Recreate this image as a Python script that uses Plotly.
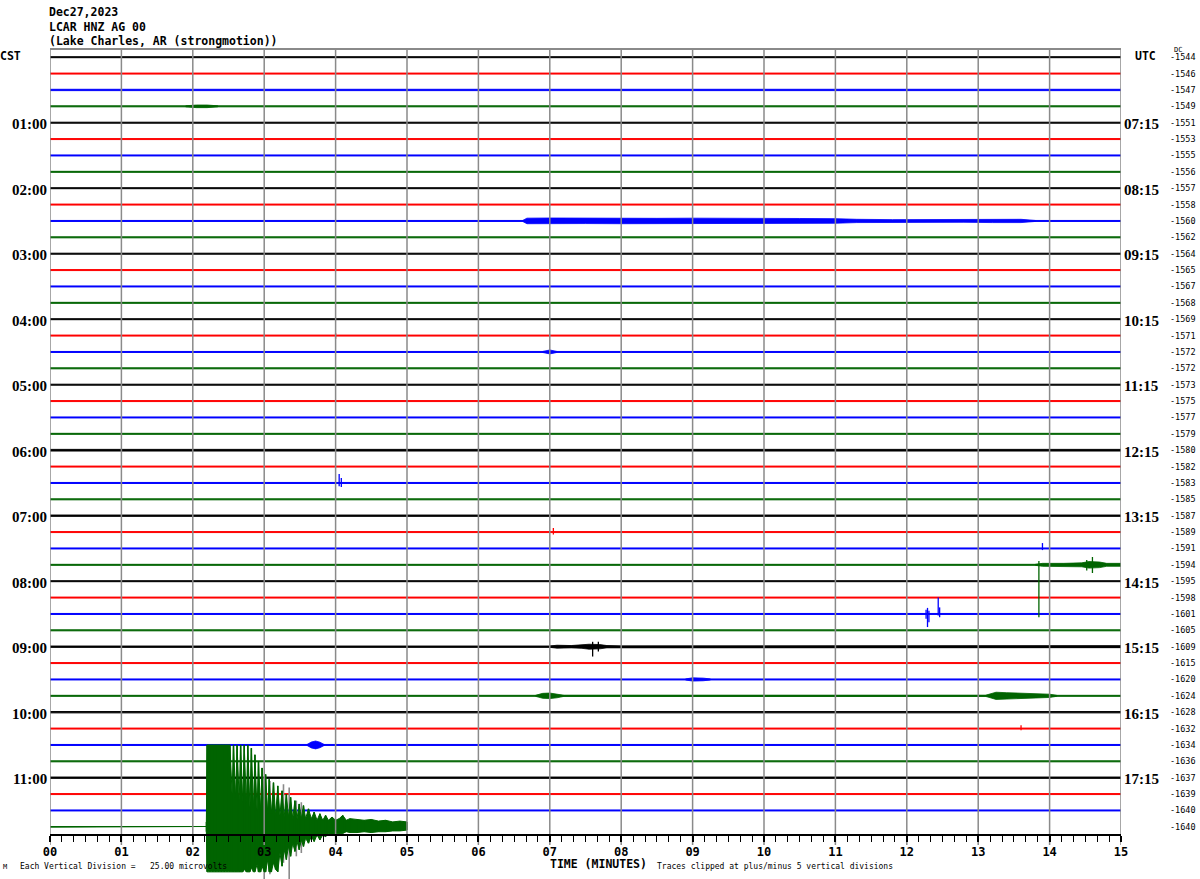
import plotly.graph_objects as go

# ---------------- data ----------------
HEADER = ["Dec27,2023", "LCAR HNZ AG 00", "(Lake Charles, AR (strongmotion))"]
CST_ROWS = [4, 8, 12, 16, 20, 24, 28, 32, 36, 40, 44]
CST_LABELS = ["01:00", "02:00", "03:00", "04:00", "05:00", "06:00",
              "07:00", "08:00", "09:00", "10:00", "11:00"]
UTC_LABELS = ["07:15", "08:15", "09:15", "10:15", "11:15", "12:15",
              "13:15", "14:15", "15:15", "16:15", "17:15"]
DC_VALUES = [-1544, -1546, -1547, -1549, -1551, -1553, -1555, -1556,
             -1557, -1558, -1560, -1562, -1564, -1565, -1567, -1568,
             -1569, -1571, -1572, -1572, -1573, -1575, -1577, -1579,
             -1580, -1582, -1583, -1585, -1587, -1589, -1591, -1594,
             -1595, -1598, -1601, -1605, -1609, -1615, -1620, -1624,
             -1628, -1632, -1634, -1636, -1637, -1639, -1640, -1640]
MINUTES = [0, 1, 2, 3, 4, 5, 6, 7, 8, 9, 10, 11, 12, 13, 14, 15]
MINUTE_LABELS = ["00", "01", "02", "03", "04", "05", "06", "07",
                 "08", "09", "10", "11", "12", "13", "14", "15"]

# background noise half-width of every row (vertical divisions)
NOISE = [0.03, 0.03, 0.04, 0.03, 0.03, 0.03, 0.03, 0.03,
         0.03, 0.03, 0.03, 0.03, 0.03, 0.03, 0.03, 0.03,
         0.03, 0.03, 0.03, 0.03, 0.03, 0.03, 0.03, 0.03,
         0.05, 0.03, 0.03, 0.03, 0.04, 0.03, 0.03, 0.03,
         0.03, 0.03, 0.03, 0.03, 0.04, 0.03, 0.03, 0.03,
         0.04, 0.03, 0.03, 0.03, 0.04, 0.03, 0.03, 0.02]
LAST_ROW_ONSET = 2.19   # minutes, earthquake arrival on last row
LAST_ROW_END = 5.0      # data end on the last row

# local activity envelopes (minutes, half-amplitude in divisions)
EV3_T = [1.9, 2.05, 2.2, 2.35]
EV3_A = [0.03, 0.08, 0.08, 0.03]
EV10_T = [6.62, 6.68, 7.0, 7.5, 8.0, 8.5, 9.0, 9.5, 10.0, 10.5, 11.0,
          11.3, 11.8, 12.3, 12.8, 13.2, 13.4, 13.6, 13.8]
EV10_A = [0.03, 0.17, 0.18, 0.16, 0.17, 0.16, 0.17, 0.15, 0.17, 0.15, 0.14,
          0.1, 0.08, 0.08, 0.08, 0.1, 0.12, 0.1, 0.03]
EV18_T = [6.9, 7.0, 7.1]
EV18_A = [0.03, 0.12, 0.03]
EV31_T = [13.8, 13.9, 14.2, 14.45, 14.55, 14.7, 14.8, 15.0]
EV31_A = [0.03, 0.09, 0.09, 0.12, 0.2, 0.17, 0.09, 0.09]
EV36_T = [7.0, 7.1, 7.3, 7.45, 7.55, 7.7, 7.8, 8.0, 10.5, 10.7, 15.0]
EV36_A = [0.04, 0.09, 0.07, 0.1, 0.15, 0.13, 0.07, 0.04, 0.04, 0.06, 0.06]
EV38_T = [8.9, 9.0, 9.15, 9.25]
EV38_A = [0.03, 0.1, 0.08, 0.03]
EV39_T = [6.8, 6.9, 7.0, 7.1, 7.2, 13.1, 13.25, 13.4, 13.6, 13.8, 14.0, 14.1]
EV39_A = [0.03, 0.15, 0.17, 0.12, 0.03, 0.03, 0.22, 0.19, 0.15, 0.12, 0.1, 0.03]
EV42_T = [3.6, 3.66, 3.72, 3.78, 3.84]
EV42_A = [0.03, 0.18, 0.24, 0.17, 0.03]

# isolated spikes: row, minute, up, down (divisions)
SPIKE_ROW = [17, 26, 26, 29, 30, 31, 31, 31, 34, 34, 34, 34, 34, 36, 36, 41]
SPIKE_T = [4.0, 4.05, 4.08, 7.05, 13.9, 13.85, 14.52, 14.6, 12.27, 12.29,
           12.31, 12.44, 12.46, 7.6, 7.68, 13.6]
SPIKE_UP = [0.15, 0.55, 0.3, 0.25, 0.33, 0.23, 0.3, 0.48, 0.25, 0.37,
            0.2, 1.0, 0.4, 0.3, 0.3, 0.2]
SPIKE_DN = [0.2, 0.2, 0.25, 0.15, 0.1, 3.2, 0.35, 0.5, 0.3, 0.8,
            0.5, 0.1, 0.2, 0.6, 0.3, 0.1]

# earthquake on the last row (minutes, up, down in divisions; clipped)
QK_T = [2.19, 2.20, 2.24, 2.28, 2.32, 2.36, 2.40, 2.44, 2.48, 2.52, 2.55,
        2.57, 2.60, 2.62, 2.65, 2.67, 2.70, 2.72, 2.75, 2.77, 2.80, 2.82,
        2.85, 2.87, 2.90, 2.92, 2.95, 2.97, 3.00, 3.02, 3.05, 3.07, 3.10,
        3.13, 3.16, 3.19, 3.22, 3.25, 3.28, 3.31, 3.34, 3.37, 3.40, 3.43,
        3.46, 3.49, 3.52, 3.55, 3.58, 3.62, 3.66, 3.70, 3.74, 3.78, 3.82,
        3.86, 3.90, 3.95, 4.00, 4.05, 4.10, 4.15, 4.20, 4.30, 4.40, 4.50,
        4.60, 4.70, 4.80, 4.90, 5.00]
QK_UP = [0.3, 5.0, 5.0, 5.0, 5.0, 5.0, 5.0, 5.0, 5.0, 5.0, 2.0,
         5.0, 1.8, 5.0, 1.6, 5.0, 1.5, 5.0, 1.4, 5.0, 1.2, 4.8,
         1.2, 4.4, 1.0, 4.0, 1.0, 3.6, 0.9, 3.2, 0.8, 2.9, 0.8,
         2.7, 0.7, 2.5, 0.7, 2.2, 0.6, 2.0, 0.6, 1.8, 0.5, 1.6,
         0.5, 1.4, 0.5, 1.3, 0.5, 1.1, 0.5, 0.9, 0.4, 0.8, 0.4,
         0.7, 0.4, 0.6, 0.4, 0.5, 0.7, 0.4, 0.5, 0.45, 0.4, 0.45,
         0.35, 0.4, 0.3, 0.35, 0.3]
QK_DN = [0.3, 2.75, 2.75, 2.75, 2.75, 2.75, 2.75, 2.75, 2.75, 2.75, 2.75,
         2.75, 2.75, 2.75, 2.75, 2.75, 2.75, 2.6, 2.75, 2.75, 2.75, 2.5,
         2.75, 2.75, 2.3, 2.75, 2.75, 2.4, 2.75, 2.75, 2.0, 2.75, 2.75,
         2.2, 2.6, 2.75, 1.6, 2.4, 1.4, 2.0, 1.2, 1.8, 1.0, 1.5,
         0.9, 1.4, 0.8, 1.2, 0.7, 1.0, 0.6, 0.9, 0.5, 0.8, 0.5,
         0.6, 0.4, 0.5, 0.4, 0.4, 0.4, 0.3, 0.35, 0.35, 0.3, 0.35,
         0.3, 0.3, 0.25, 0.25, 0.2]
# faint grey overdraw spikes in the earthquake
QG_T = [3.00, 3.08, 3.27, 3.35, 3.45, 3.52]
QG_UP = [3.0, 2.8, 2.6, 2.4, 1.6, 1.5]
QG_DN = [3.3, 2.9, 2.2, 3.3, 1.8, 1.6]

# ---------------- styles / geometry ----------------
COLORS = ["#000000", "#ff0000", "#0000ff", "#006400"]
GRID = "#8a8a8a"
W, H = 1200, 879
PL, PR, PT, PB = 50, 1121, 50, 879
ROW0_PX, ROW_PX = 57.2, 16.375
AXIS_PX, GRID_END_PX = 835, 845
MONO = "DejaVu Sans Mono"


def ypx(p):
    return -(p - ROW0_PX) / ROW_PX


def fx(p):
    return (p - PL) / (PR - PL)


def fy(p):
    return (PB - p) / (PB - PT)


Y_TOP = ypx(PT)
Y_BOT = ypx(PB)
NROWS = len(DC_VALUES)

fig = go.Figure()


def band(xs, ups, dns, color, width=1.0):
    xx = list(xs) + list(xs)[::-1]
    yy = list(ups) + list(dns)[::-1]
    fig.add_trace(go.Scatter(x=xx, y=yy, mode="lines", fill="toself",
                             fillcolor=color, line=dict(color=color, width=width),
                             hoverinfo="skip", showlegend=False))


def segs(ts, base, ups, dns, color, width):
    xx, yy = [], []
    for t, u, d in zip(ts, ups, dns):
        xx += [t, t, None]
        yy += [base + u, base - d, None]
    fig.add_trace(go.Scatter(x=xx, y=yy, mode="lines",
                             line=dict(color=color, width=width),
                             hoverinfo="skip", showlegend=False))


# background traces
for i in range(NROWS):
    c = COLORS[i % 4]
    base = -i
    n = NOISE[i]
    end = LAST_ROW_ONSET if i == NROWS - 1 else MINUTES[-1]
    band([MINUTES[0], end], [base + n, base + n], [base - n, base - n], c, 1.0)

# envelopes
ENVELOPES = [(3, EV3_T, EV3_A), (10, EV10_T, EV10_A), (18, EV18_T, EV18_A),
             (31, EV31_T, EV31_A), (36, EV36_T, EV36_A), (38, EV38_T, EV38_A),
             (39, EV39_T, EV39_A), (42, EV42_T, EV42_A)]
for row, ts, amps in ENVELOPES:
    base = -row
    band(ts, [base + a for a in amps], [base - a for a in amps], COLORS[row % 4], 0.8)

# spikes
for r, t, u, d in zip(SPIKE_ROW, SPIKE_T, SPIKE_UP, SPIKE_DN):
    segs([t], -r, [u], [d], COLORS[r % 4], 1.3)

# earthquake on last row
qrow = NROWS - 1
qbase = -qrow
qc = COLORS[qrow % 4]
segs(QG_T, qbase, QG_UP, QG_DN, GRID, 1.6)
band(QK_T, [qbase + u for u in QK_UP], [qbase - d for d in QK_DN], qc, 1.0)
segs(QK_T, qbase, QK_UP, QK_DN, qc, 1.6)

# minute grid lines (drawn on top), on the bottom time axis
gx, gy = [], []
for m in MINUTES:
    gx += [m, m, None]
    gy += [Y_TOP, ypx(GRID_END_PX), None]
fig.add_trace(go.Scatter(x=gx, y=gy, mode="lines", xaxis="x2",
                         line=dict(color=GRID, width=1.5),
                         hoverinfo="skip", showlegend=False))

minor_vals = [m + k / 6 for m in MINUTES[:-1] for k in range(1, 6)]

fig.update_layout(
    width=W, height=H,
    margin=dict(l=PL, r=W - PR, t=PT, b=H - PB),
    paper_bgcolor="white", plot_bgcolor="white",
    showlegend=False,
    xaxis=dict(range=[MINUTES[0], MINUTES[-1]], side="top", showline=True,
               linecolor=GRID, linewidth=1.5, showgrid=False, zeroline=False,
               showticklabels=False, ticks=""),
    xaxis2=dict(range=[MINUTES[0], MINUTES[-1]], overlaying="x", anchor="free",
                position=fy(AXIS_PX), side="bottom", showline=True,
                linecolor="black", linewidth=2, showgrid=False, zeroline=False,
                tickmode="array", tickvals=MINUTES, ticktext=MINUTE_LABELS,
                ticks="outside", ticklen=6, tickwidth=1.5, tickcolor="black",
                tickfont=dict(family=MONO, size=12, color="black", weight="bold"),
                minor=dict(tickmode="array", tickvals=minor_vals, ticks="outside",
                           ticklen=6, tickwidth=1.2, tickcolor="black")),
    yaxis=dict(range=[Y_BOT, Y_TOP], visible=False, showgrid=False, zeroline=False),
)

ann = []


def text(x, y, s, size, family=MONO, bold=False, anchor="left", color="black",
         xref="paper", yref="paper", yshift=0, xshift=0):
    ann.append(dict(x=x, y=y, xref=xref, yref=yref, text=s, showarrow=False,
                    xanchor=anchor, yanchor="middle", xshift=xshift, yshift=yshift,
                    font=dict(family=family, size=size, color=color,
                              weight="bold" if bold else "normal")))


for k, s in enumerate(HEADER):
    text(fx(47), fy([12, 27, 41][k]), s, 11.5, bold=True)
text(fx(-2), fy(56), "CST", 11.5, bold=True)
text(fx(1133), fy(56), "UTC", 11.5, bold=True)
text(fx(1172), fy(50), "DC", 7)

for r, c_lab, u_lab in zip(CST_ROWS, CST_LABELS, UTC_LABELS):
    text(0, -r, c_lab, 15, family="Liberation Serif", bold=True, anchor="right",
         yref="y", xshift=-1, yshift=-1.5)
    text(fx(1122), -r, u_lab, 15, family="Liberation Serif", bold=True,
         yref="y", yshift=-1.5)

for i, v in enumerate(DC_VALUES):
    text(fx(1168), -i, str(v), 8.5, yref="y")

text(fx(548), fy(864), "TIME (MINUTES)", 11.5, bold=True)
text(fx(655), fy(866), "Traces clipped at plus/minus 5 vertical divisions", 8)
text(fx(18), fy(866), "Each Vertical Division =\u00a0\u00a0\u00a025.00 microvolts", 8)
text(fx(1), fy(867), "M", 7)

fig.update_layout(annotations=ann)
fig.write_html("out.html")
